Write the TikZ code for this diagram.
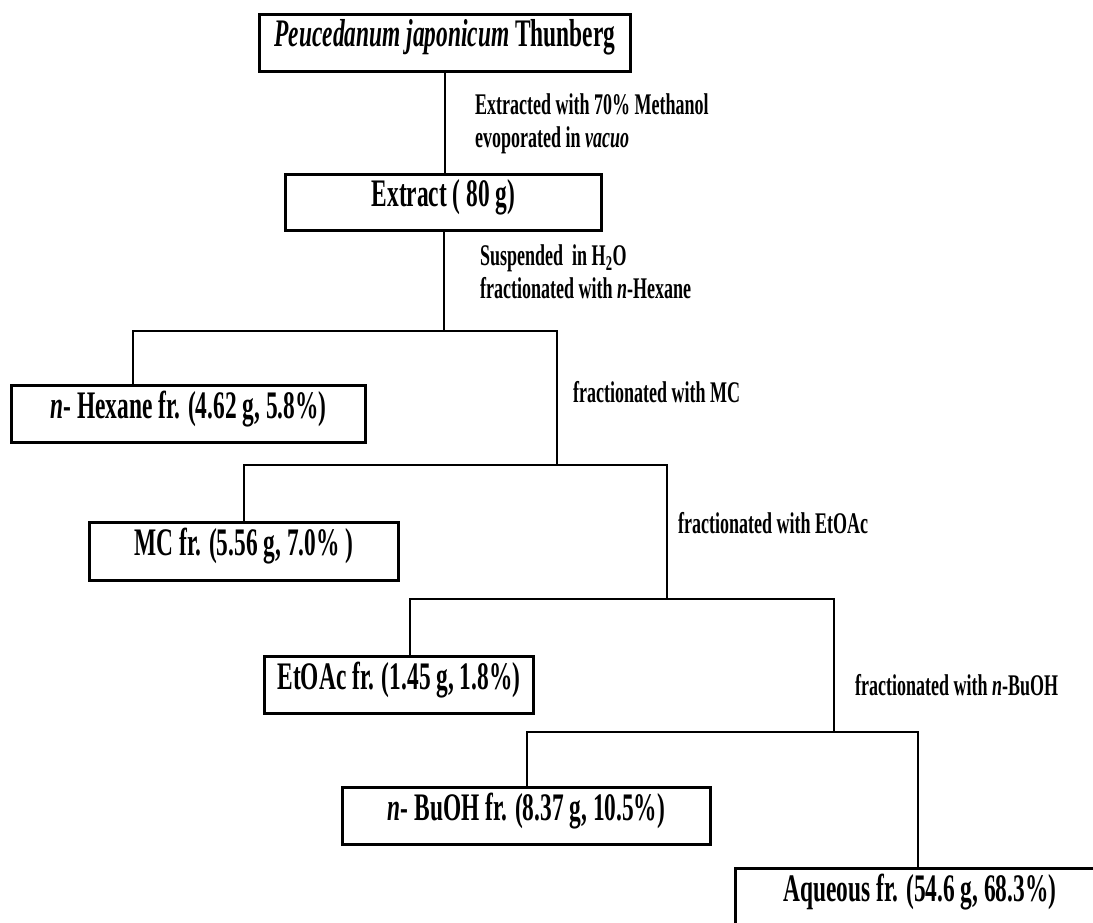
\documentclass[tikz,border=0pt]{standalone}
\usepackage{fontspec}
\setmainfont{Liberation Serif}[FakeStretch=0.6]
\tikzset{
  fbox/.style={draw=black, line width=3pt, fill=white, inner sep=2pt, outer sep=0pt,
    font=\fontsize{39}{43}\selectfont\bfseries, text height=1.02em, text depth=0.22em},
  conn/.style={draw=black, line width=2pt},
  lab/.style={inner sep=0pt, anchor=base west, font=\fontsize{30}{34}\selectfont\bfseries}
}
\begin{document}
\begin{tikzpicture}[x=1pt,y=-1pt]
\useasboundingbox (0,0) rectangle (1093,923);
\clip (0,0) rectangle (1093,923);
\fill[white] (0,0) rectangle (1093,923);

% boxes
\node[fbox, minimum width=371pt, minimum height=57pt] (top) at (445,43) {\textit{Peucedanum japonicum} Thunberg};
\node[fbox, minimum width=316pt, minimum height=56pt] (extract) at (443.5,202.5) {Extract ( 80 g)};
\node[fbox, minimum width=354pt, minimum height=57pt] (hexane) at (188.5,414) {\textit{n}- Hexane fr. (4.62 g, 5.8\%)};
\node[fbox, minimum width=309pt, minimum height=58pt] (mc) at (244,551.5) {MC fr. (5.56 g, 7.0\% )};
\node[fbox, minimum width=269pt, minimum height=57pt] (etoac) at (399,685) {EtOAc fr. (1.45 g, 1.8\%)};
\node[fbox, minimum width=368pt, minimum height=57pt] (buoh) at (526.5,816) {\textit{n}- BuOH fr. (8.37 g, 10.5\%)};
\node[fbox, minimum width=369pt, minimum height=57pt] (aq) at (920,897) {Aqueous fr. (54.6 g, 68.3\%)};

% labels
\node[lab] (l1a) at (475,115) {Extracted with 70\% Methanol};
\node[lab] (l1b) at (475,148) {evoporated in \textit{vacuo}};
\node[lab] (l2a) at (480,265) {Suspended \ in H\textsubscript{2}O};
\node[lab] (l2b) at (480,298) {fractionated with \textit{n}-Hexane};
\node[lab] (l3) at (573,402) {fractionated with MC};
\node[lab] (l4) at (678,533) {fractionated with EtOAc};
\node[lab] (l5) at (855,695) {fractionated with \textit{n}-BuOH};

% junction coordinates
\coordinate (j1L) at (133,331); \coordinate (j1R) at (557,331);
\coordinate (j2L) at (244,465); \coordinate (j2R) at (667,465);
\coordinate (j3L) at (410,599); \coordinate (j3R) at (834,599);
\coordinate (j4L) at (527,732); \coordinate (j4R) at (918,732);

% connectors
\draw[conn] (top.south) -- (top.south |- extract.north);
\draw[conn] (extract.south) -- (extract.south |- j1L);
\draw[conn] (hexane.north -| j1L) -- (j1L) -- (j1R) -- (j1R |- j2L);
\draw[conn] (mc.north -| j2L) -- (j2L) -- (j2R) -- (j2R |- j3L);
\draw[conn] (etoac.north -| j3L) -- (j3L) -- (j3R) -- (j3R |- j4L);
\draw[conn] (buoh.north -| j4L) -- (j4L) -- (j4R) -- (aq.north -| j4R);
\end{tikzpicture}
\end{document}
